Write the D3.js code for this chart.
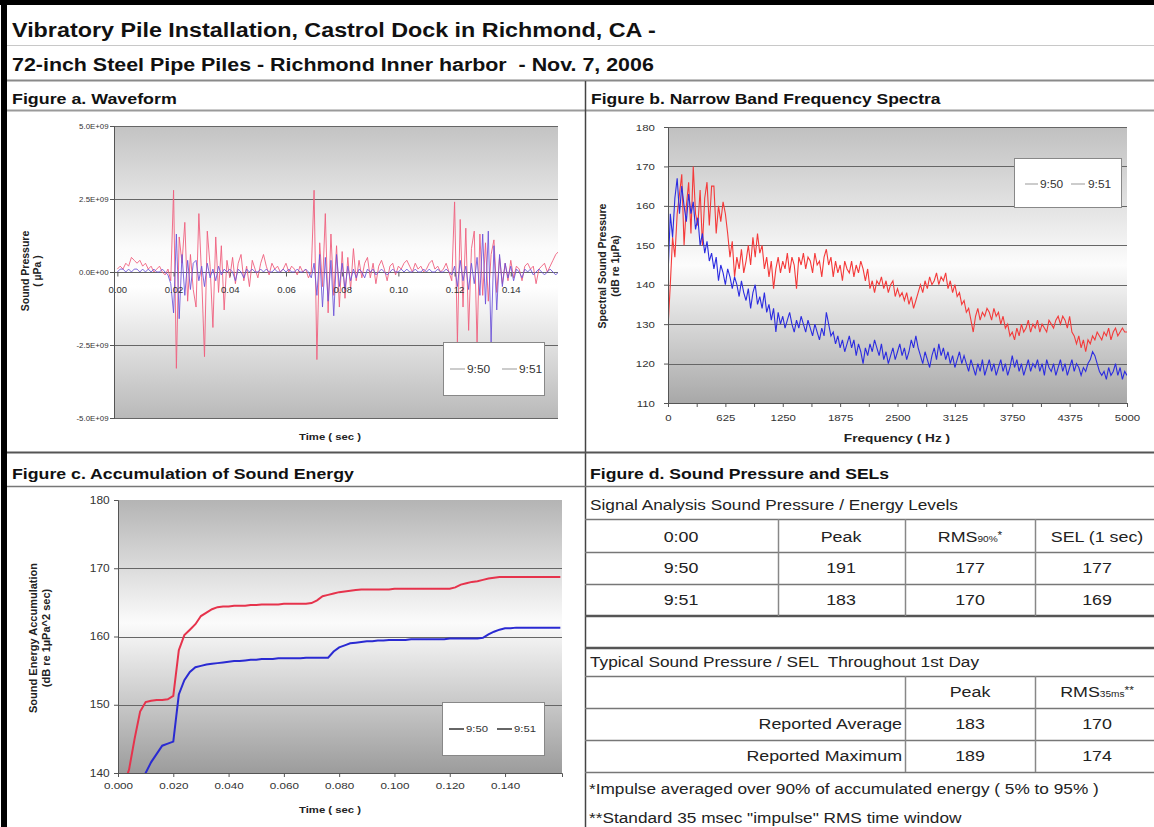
<!DOCTYPE html>
<html><head><meta charset="utf-8">
<script src="https://cdn.jsdelivr.net/npm/d3@7"></script>
<style>
body{margin:0;background:#fff}
svg{display:block;font-family:"Liberation Sans",Arial,Helvetica,sans-serif}
</style>
</head><body>
<svg id="c" width="1154" height="827"></svg>
<script>
// ---------------- DATA ----------------
const seriesNames = ["9:50", "9:51"];

// Figure a: waveform, sound pressure in units of 1E+09 µPa, sampled every 1 ms
const WAVE_DT = 0.001;
const wave950 = [
  0.1,0.2,0.1,0.3,0.2,0.5,0.4,0.3,0.4,0.2,
  0.3,0.1,0.2,0.0,0.1,0.2,0.0,-0.1,0.1,-0.3,
  2.8,-3.3,1.2,0.3,1.7,-1.0,0.6,-0.6,-1.2,2.0,
  -0.2,-2.9,1.4,0.2,-1.9,1.2,-0.7,0.9,-1.3,0.4,
  -0.2,0.5,-0.4,0.3,0.6,-0.3,0.2,-0.5,0.4,0.1,
  -0.2,0.3,0.6,0.2,-0.1,0.3,0.1,0.2,0.0,0.1,
  0.3,0.0,0.2,0.1,-0.1,0.2,0.0,0.1,-0.2,0.0,
  2.8,-3.0,1.0,-0.5,2.0,-1.4,1.3,-0.8,0.9,-1.2,
  0.7,-0.9,0.5,-0.6,0.8,-0.3,0.4,-0.2,0.3,0.5,
  -0.2,0.3,-0.4,0.2,0.4,0.1,-0.3,0.2,0.3,-0.1,
  0.2,0.1,0.3,0.4,0.2,0.0,0.3,0.1,0.2,0.0,
  0.1,0.3,0.4,0.1,0.2,0.0,0.1,0.3,0.0,-0.3,
  2.4,-2.4,1.8,-1.2,1.5,-2.0,0.8,1.4,-2.5,1.3,
  -0.8,1.0,-1.0,0.6,1.1,-0.7,0.5,-0.4,0.3,-0.3,
  0.4,-0.2,0.2,0.1,-0.3,0.2,0.3,0.1,0.2,-0.4,
  0.1,0.2,0.3,0.0,0.2,0.4,0.6,0.7
];
const wave951 = [
  0.0,0.1,0.1,0.0,0.1,0.0,0.1,0.1,0.0,0.1,
  0.0,0.1,0.0,0.1,0.0,0.0,0.1,0.0,-0.1,-0.4,
  -1.4,1.3,-1.6,0.6,-0.8,0.4,-0.6,0.3,0.4,-0.3,
  0.2,-0.5,0.3,-0.2,0.1,-0.3,0.2,-0.1,0.1,0.0,
  0.1,0.0,-0.3,0.1,0.0,-0.2,0.1,0.0,0.1,0.0,
  0.0,0.1,0.0,0.1,0.0,0.0,0.1,0.0,0.0,0.1,
  0.0,0.1,0.0,0.0,0.1,0.0,0.0,0.1,0.0,-0.2,
  0.3,-0.8,0.6,-1.2,0.5,-1.0,0.4,-1.5,0.6,-0.5,
  0.3,-0.6,0.2,-0.3,0.1,-0.2,0.1,0.0,-0.2,0.1,
  0.0,0.1,-0.1,0.0,0.1,0.0,-0.1,0.0,0.1,0.0,
  0.0,0.1,0.0,0.1,0.0,0.0,0.1,0.0,0.0,0.1,
  0.0,0.1,0.0,0.0,0.1,0.0,0.0,0.1,0.0,-0.1,
  0.2,-0.5,0.4,-0.3,0.2,-0.6,0.3,-0.4,0.5,-0.8,
  1.3,-1.1,1.4,-2.4,0.9,-1.3,0.6,-0.5,0.3,-0.2,
  0.2,-0.3,0.1,0.0,-0.2,0.1,0.0,0.1,-0.1,0.0,
  0.1,0.0,-0.1,0.0,0.1,0.0,-0.1,0.0
];
const waveXTicks = [0, 0.02, 0.04, 0.06, 0.08, 0.10, 0.12, 0.14];
const waveYTicks = [-5, -2.5, 0, 2.5, 5];

// Figure b: narrow band spectra (dB re 1µPa), every 25 Hz from 0 to 5000 Hz
const SPEC_DF = 25;
const spec950 = [
  129,140,152,147,158,163,168,150,160,166,
  153,170,158,155,164,150,162,166,155,165,
  165,153,160,156,161,158,153,147,151,142,
  147,144,149,143,146,150,145,152,147,153,
  148,150,144,147,142,146,139,144,147,143,
  146,144,148,143,147,145,139,147,145,148,
  144,147,146,143,148,145,146,142,147,149,
  145,147,142,146,143,145,141,146,144,143,
  146,142,145,143,146,144,141,144,139,141,
  138,141,140,142,139,141,138,140,141,137,
  139,137,138,136,138,135,137,134,136,138,
  140,138,141,139,142,140,141,143,140,142,
  141,143,139,141,138,140,137,138,135,136,
  133,134,131,128,132,134,131,133,132,134,
  133,131,134,132,133,130,132,129,130,127,
  128,126,129,127,130,128,129,131,128,130,
  129,131,128,130,129,128,131,130,129,131,
  132,130,132,131,129,132,128,127,125,127,
  124,126,123,126,125,127,126,128,127,126,
  128,127,129,126,128,129,127,128,129,128,
  128
];
const spec951 = [
  142,158,152,162,167,158,165,160,156,163,
  158,161,154,157,150,153,148,151,146,148,
  144,147,141,145,143,140,144,142,139,142,
  140,137,141,138,136,139,134,138,140,135,
  137,134,138,133,135,131,134,128,133,130,
  132,129,131,133,130,128,131,129,132,130,
  128,131,129,127,130,128,126,129,127,133,
  130,127,128,125,127,124,126,123,125,127,
  124,126,122,125,123,120,124,122,125,123,
  126,124,122,125,121,123,120,122,124,121,
  123,125,122,124,121,123,126,124,127,124,
  122,120,123,121,119,122,124,121,125,122,
  124,121,123,120,122,119,121,123,120,122,
  120,118,121,119,117,120,118,121,117,119,
  121,118,120,117,119,121,118,120,117,119,
  122,119,121,118,120,117,119,121,118,120,
  119,121,118,120,117,121,119,118,120,117,
  119,121,118,120,117,119,121,118,120,119,
  117,119,118,120,121,123,122,120,118,117,
  118,116,119,117,118,120,117,119,116,118,
  117
];
const specXTicks = [0, 625, 1250, 1875, 2500, 3125, 3750, 4375, 5000];
const specYTicks = [110, 120, 130, 140, 150, 160, 170, 180];

// Figure c: accumulated sound energy (dB re 1µPa^2 sec), every 2 ms
const ACC_DT = 0.002;
const acc950 = [
  133,138,140.5,145,149,150.4,150.6,150.7,150.7,150.8,
  151.3,158,160.2,161,161.8,163,163.5,164,164.3,164.4,
  164.4,164.5,164.5,164.5,164.6,164.6,164.7,164.7,164.7,164.7,
  164.8,164.8,164.8,164.8,164.8,164.9,165.3,165.9,166.1,166.3,
  166.5,166.6,166.7,166.8,166.9,166.9,166.9,166.9,166.9,166.9,
  167.0,167.0,167.0,167.0,167.0,167.0,167.0,167.0,167.0,167.0,
  167.0,167.2,167.6,167.8,168.0,168.1,168.3,168.5,168.6,168.7,
  168.7,168.7,168.7,168.7,168.7,168.7,168.7,168.7,168.7,168.7,
  168.7
];
const acc951 = [
  130,132,134,136,138,140,141.6,142.8,144,144.3,
  144.6,151.5,153.6,154.8,155.5,155.7,155.9,156.0,156.1,156.2,
  156.3,156.4,156.4,156.5,156.6,156.6,156.7,156.7,156.7,156.8,
  156.8,156.8,156.8,156.8,156.9,156.9,156.9,156.9,156.9,157.8,
  158.4,158.7,159.0,159.1,159.2,159.3,159.3,159.4,159.4,159.5,
  159.5,159.5,159.5,159.6,159.6,159.6,159.6,159.6,159.6,159.6,
  159.7,159.7,159.7,159.7,159.7,159.7,159.8,160.3,160.7,161.0,
  161.2,161.2,161.3,161.3,161.3,161.3,161.3,161.3,161.3,161.3,
  161.3
];
const accXTicks = [0, 0.02, 0.04, 0.06, 0.08, 0.10, 0.12, 0.14];
const accYTicks = [140, 150, 160, 170, 180];

// Figure d: tables
const sigHeaders = ["0:00", "Peak", "RMS", "SEL (1 sec)"];
const sigRows = [["9:50", 191, 177, 177], ["9:51", 183, 170, 169]];
const typHeaders = ["", "Peak", "RMS"];
const typRows = [["Reported Average", 183, 170], ["Reported Maximum", 189, 174]];
const footnotes = ["*Impulse averaged over 90% of accumulated energy ( 5% to 95% )",
                   "**Standard 35 msec \"impulse\" RMS time window"];

// ---------------- DRAWING ----------------
const K = 1.19; // horizontal stretch of the reference typography
const svg = d3.select("#c");
const defs = svg.append("defs");

function grad(id, stops) {
  const g = defs.append("linearGradient").attr("id", id)
    .attr("x1", 0).attr("y1", 0).attr("x2", 0).attr("y2", 1);
  stops.forEach(s => g.append("stop").attr("offset", s[0]).attr("stop-color", s[1]));
}
grad("gA", [[0, "#c3c3c3"], [0.42, "#fbfbfb"], [0.55, "#ffffff"], [1, "#b9b9b9"]]);
grad("gB", [[0, "#c0c0c0"], [0.5, "#fcfcfc"], [1, "#a8a8a8"]]);
grad("gC", [[0, "#b4b4b4"], [0.45, "#fbfbfb"], [1, "#9c9c9c"]]);

// ---- page frame ----
svg.append("rect").attr("x", 0).attr("y", 0).attr("width", 1154).attr("height", 5).attr("fill", "#000");
svg.append("rect").attr("x", 1).attr("y", 0).attr("width", 6).attr("height", 827).attr("fill", "#000");

function hline(y, x1, x2, w, c) {
  svg.append("line").attr("x1", x1).attr("x2", x2).attr("y1", y).attr("y2", y)
    .attr("stroke", c || "#777").attr("stroke-width", w || 1);
}
function vline(x, y1, y2, w, c) {
  svg.append("line").attr("x1", x).attr("x2", x).attr("y1", y1).attr("y2", y2)
    .attr("stroke", c || "#777").attr("stroke-width", w || 1);
}
function text(x, y, s, size, weight, anchor, fill, k) {
  const g = svg.append("g").attr("transform", `translate(${x},${y}) scale(${k || K},1)`);
  return g.append("text").attr("x", 0).attr("y", 0).attr("dy", "0.35em")
    .attr("font-size", size).attr("font-weight", weight || "normal")
    .attr("text-anchor", anchor || "start").attr("fill", fill || "#111").text(s);
}

hline(45.5, 7, 1154, 1, "#c8c8c8");
hline(80.5, 7, 1154, 2, "#8a8a8a");
hline(110.5, 7, 1154, 2, "#9a9a9a");
vline(585.5, 81, 827, 1.5, "#444");
hline(452.5, 7, 1154, 2, "#555");
hline(486.5, 7, 1154, 1.5, "#777");

text(12, 30, "Vibratory Pile Installation, Castrol Dock in Richmond, CA -", 19.6, "bold");
text(12, 65, "72-inch Steel Pipe Piles - Richmond Inner harbor  - Nov. 7, 2006", 18, "bold").style("white-space", "pre");
text(12, 99, "Figure a. Waveform", 15, "bold");
text(591, 99, "Figure b. Narrow Band Frequency Spectra", 14.7, "bold");
text(12, 474, "Figure c. Accumulation of Sound Energy", 14.9, "bold");
text(590, 474, "Figure d. Sound Pressure and SELs", 14.8, "bold");

// ---- generic helpers for charts ----
function plotBg(p, gid) {
  svg.append("rect").attr("x", p.x0).attr("y", p.y0).attr("width", p.x1 - p.x0).attr("height", p.y1 - p.y0)
    .attr("fill", `url(#${gid})`);
}
function clip(id, p) {
  defs.append("clipPath").attr("id", id).append("rect")
    .attr("x", p.x0).attr("y", p.y0).attr("width", p.x1 - p.x0).attr("height", p.y1 - p.y0);
}
function gridY(p, y, ticks) {
  svg.append("g").selectAll("line").data(ticks).join("line")
    .attr("x1", p.x0).attr("x2", p.x1).attr("y1", d => Math.round(y(d)) + 0.5).attr("y2", d => Math.round(y(d)) + 0.5)
    .attr("stroke", "#666").attr("stroke-width", 1);
}
function styleAxis(g, size, k) {
  g.select(".domain").attr("stroke", "#555");
  g.selectAll(".tick line").attr("stroke", "#555");
  g.selectAll("text").attr("fill", "#333").attr("font-size", size)
    .attr("font-family", '"Liberation Sans",Arial,sans-serif')
    .attr("transform", `scale(${k},1)`);
}
function legend(bx, by, bw, bh, items, ty, size, lineW) {
  svg.append("rect").attr("x", bx + 0.5).attr("y", by + 0.5).attr("width", bw).attr("height", bh)
    .attr("fill", "#fff").attr("stroke", "#888").attr("stroke-width", 1);
  items.forEach(it => {
    svg.append("line").attr("x1", it.lx1).attr("x2", it.lx2).attr("y1", ty).attr("y2", ty)
      .attr("stroke", it.color).attr("stroke-width", lineW);
    text(it.tx, ty, it.name, size, "normal", "start", "#333");
  });
}
function yTitle(x, y, lines, size, gap) {
  svg.append("text").attr("transform", `translate(${x},${y}) rotate(-90)`).attr("text-anchor", "middle")
    .attr("font-size", size).attr("font-weight", "bold").attr("fill", "#222")
    .selectAll("tspan").data(lines).join("tspan")
    .attr("x", 0).attr("dy", (d, i) => i ? gap : 0).text(d => d);
}

// ---- Figure a ----
const pA = {x0: 114, x1: 558, y0: 126, y1: 418};
const xA = d3.scaleLinear().domain([-0.0012, 0.1568]).range([pA.x0, pA.x1]);
const yA = d3.scaleLinear().domain([-5, 5]).range([pA.y1, pA.y0]);
plotBg(pA, "gA");
clip("cA", pA);
gridY(pA, yA, waveYTicks);
const colA = ["#f0607e", "#6a50d8"];
[wave950, wave951].forEach((arr, k) => {
  const line = d3.line().x((d, i) => xA(i * WAVE_DT)).y(d => yA(d));
  svg.append("path").datum(arr).attr("d", line).attr("fill", "none")
    .attr("stroke", colA[k]).attr("stroke-width", 1).attr("stroke-opacity", k ? 0.85 : 0.9)
    .attr("clip-path", "url(#cA)");
});
const fmtE = v => v === 0 ? "0.0E+00" : (v < 0 ? "-" : "") + Math.abs(v).toFixed(1) + "E+09";
const axAy = svg.append("g").attr("transform", `translate(${pA.x0},0)`)
  .call(d3.axisLeft(yA).tickValues(waveYTicks).tickFormat(fmtE).tickSize(4).tickPadding(1));
styleAxis(axAy, 7.3, 1.08);
const axAx = svg.append("g").attr("transform", `translate(0,${Math.round(yA(0)) + 0.5})`)
  .call(d3.axisBottom(xA).tickValues(waveXTicks).tickFormat(d3.format(".2f")).tickSize(4).tickPadding(11));
styleAxis(axAx, 8.3, 1.15);
axAx.select(".domain").remove();
text(330, 437, "Time ( sec )", 9.5, "bold", "middle", "#222");
yTitle(29, 271, ["Sound Pressure", "( µPa )"], 10.5, 12);
legend(443, 342, 101, 53, [
  {name: seriesNames[0], color: "#999", lx1: 450, lx2: 465, tx: 467},
  {name: seriesNames[1], color: "#999", lx1: 502, lx2: 517, tx: 519}
], 369, 10, 1);

// ---- Figure b ----
const pB = {x0: 668, x1: 1127, y0: 127, y1: 403};
const xB = d3.scaleLinear().domain([0, 5000]).range([pB.x0, pB.x1]);
const yB = d3.scaleLinear().domain([110, 180]).range([pB.y1, pB.y0]);
plotBg(pB, "gB");
clip("cB", pB);
gridY(pB, yB, specYTicks.slice(1));
const colB = ["#f43a3a", "#2c2ce0"];
[spec950, spec951].forEach((arr, k) => {
  const line = d3.line().x((d, i) => xB(i * SPEC_DF)).y(d => yB(d));
  svg.append("path").datum(arr).attr("d", line).attr("fill", "none")
    .attr("stroke", colB[k]).attr("stroke-width", 1.1).attr("clip-path", "url(#cB)");
});
const axBy = svg.append("g").attr("transform", `translate(${pB.x0},0)`)
  .call(d3.axisLeft(yB).tickValues(specYTicks).tickFormat(d3.format("d")).tickSize(4).tickPadding(7));
styleAxis(axBy, 9.6, K);
const axBx = svg.append("g").attr("transform", `translate(0,${pB.y1})`)
  .call(d3.axisBottom(xB).tickValues(d3.range(0, 5001, 312.5)).tickFormat(d => specXTicks.includes(d) ? d3.format("d")(d) : "").tickSize(4).tickPadding(7));
styleAxis(axBx, 9.6, K);
text(897, 438, "Frequency ( Hz )", 11.5, "bold", "middle", "#222");
yTitle(606, 266, ["Spectral Sound Pressure", "(dB re 1µPa)"], 10.5, 13);
legend(1014, 158, 107, 49, [
  {name: seriesNames[0], color: "#999", lx1: 1025, lx2: 1038, tx: 1040},
  {name: seriesNames[1], color: "#999", lx1: 1071, lx2: 1085, tx: 1088}
], 184, 10, 1);

// ---- Figure c ----
const pC = {x0: 118, x1: 562, y0: 500, y1: 773};
const xC = d3.scaleLinear().domain([0, 0.1606]).range([pC.x0, pC.x1]);
const yC = d3.scaleLinear().domain([140, 180]).range([pC.y1, pC.y0]);
plotBg(pC, "gC");
clip("cC", pC);
gridY(pC, yC, accYTicks.slice(1, -1));
const colC = ["#e6334c", "#2a2ad2"];
[acc950, acc951].forEach((arr, k) => {
  const line = d3.line().x((d, i) => xC(i * ACC_DT)).y(d => yC(d));
  svg.append("path").datum(arr).attr("d", line).attr("fill", "none")
    .attr("stroke", colC[k]).attr("stroke-width", 2).attr("clip-path", "url(#cC)");
});
const axCy = svg.append("g").attr("transform", `translate(${pC.x0},0)`)
  .call(d3.axisLeft(yC).tickValues(accYTicks).tickFormat(d3.format("d")).tickSize(4).tickPadding(3));
styleAxis(axCy, 10, K);
const axCx = svg.append("g").attr("transform", `translate(0,${pC.y1})`)
  .call(d3.axisBottom(xC).tickValues(accXTicks).tickFormat(d3.format(".3f")).tickSize(4).tickPadding(5));
styleAxis(axCx, 9.8, K);
text(330, 810, "Time ( sec )", 9.5, "bold", "middle", "#222");
yTitle(37, 638, ["Sound Energy Accumulation", "(dB re 1µPa^2 sec)"], 11, 13);
legend(442, 702, 102, 53, [
  {name: seriesNames[0], color: "#333", lx1: 449, lx2: 464, tx: 466},
  {name: seriesNames[1], color: "#333", lx1: 497, lx2: 512, tx: 514}
], 729, 9.5, 1.5);

// ---- Figure d: tables ----
const TX = 585, TR = 1154;
text(590, 505, "Signal Analysis Sound Pressure / Energy Levels", 14.5, "normal", "start", "#222");
[519, 552, 584].forEach(y => hline(y + 0.5, TX, TR, 1.5, "#777"));
hline(616, TX, TR, 2.5, "#555");
hline(648, TX, TR, 2.5, "#555");
const col1 = [681, 841, 970, 1097];
const colLines1 = [778, 905, 1035];
colLines1.forEach(x => vline(x + 0.5, 519, 616, 1.5, "#888"));
sigHeaders.forEach((h, i) => {
  const t = text(col1[i], 537, h, 15, "normal", "middle", "#222");
  if (h === "RMS") { t.append("tspan").attr("font-size", 8.5).text("90%"); t.append("tspan").attr("font-size", 10).attr("dy", "-0.3em").text("*"); }
});
sigRows.forEach((r, j) => r.forEach((v, i) => text(col1[i], 568 + j * 32, v, 15, "normal", "middle", "#222")));

text(590, 662, "Typical Sound Pressure / SEL  Throughout 1st Day", 14.5, "normal", "start", "#222").style("white-space", "pre");
[676, 708, 740, 772].forEach(y => hline(y + 0.5, TX, TR, 1.5, "#777"));
[905, 1035].forEach(x => vline(x + 0.5, 676, 772, 1.5, "#888"));
const col2 = [902, 970, 1097];
typHeaders.forEach((h, i) => {
  if (!h) return;
  const t = text(col2[i], 692, h, 15, "normal", "middle", "#222");
  if (h === "RMS") { t.append("tspan").attr("font-size", 8.5).text("35ms"); t.append("tspan").attr("font-size", 10).attr("dy", "-0.3em").text("**"); }
});
typRows.forEach((r, j) => r.forEach((v, i) =>
  text(col2[i], 724 + j * 32, v, 15, "normal", i ? "middle" : "end", "#222")));
footnotes.forEach((f, i) => text(589, 789 + i * 29, f, 14.5, "normal", "start", "#222"));
</script>
</body></html>
